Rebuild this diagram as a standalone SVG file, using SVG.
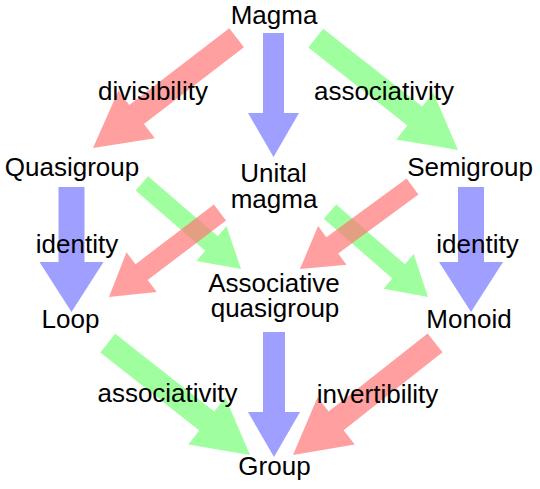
<svg xmlns="http://www.w3.org/2000/svg" width="540" height="489" viewBox="0 0 540 489">
<style>
.r{fill:#ff7676;fill-opacity:0.7}
.g{fill:#76ff76;fill-opacity:0.7}
.b{fill:#7676ff;fill-opacity:0.7}
text{font-family:"Liberation Sans",Arial,sans-serif;font-size:26px;fill:#000;text-anchor:middle}
</style>
<g id="connectors">
<polygon id="magma-unital" class="b" points="263,33 284,33 284,113 299,113 273.5,157 248,113 263,113"/>
<path id="magma-quasigroup" class="r" transform="translate(93,148) rotate(142.5)" d="M-181,-12H-55V-30L0,0L-55,30V12H-181Z"/>
<path id="magma-semigroup" class="g" transform="translate(458,150) rotate(38.2)" d="M-181,-12H-55V-30L0,0L-55,30V12H-181Z"/>
<polygon id="quasigroup-loop" class="b" points="58.5,187 84.5,187 84.5,262 103.5,262 71.5,312 39.5,262 58.5,262"/>
<polygon id="semigroup-monoid" class="b" points="458,187 484,187 484,262 503,262 471,312 439,262 458,262"/>
<path id="quasigroup-aq" class="g" transform="translate(241,269) rotate(40.8)" d="M-131,-9.5H-39V-23L0,0L-39,23V9.5H-131Z"/>
<path id="unital-monoid" class="g" transform="translate(428,297) rotate(41.1)" d="M-130,-9.5H-39V-23L0,0L-39,23V9.5H-130Z"/>
<path id="unital-loop" class="r" transform="translate(109,297) rotate(142.7)" d="M-139.5,-10H-41V-25L0,0L-41,25V10H-139.5Z"/>
<path id="semigroup-aq" class="r" transform="translate(300,269) rotate(143.75)" d="M-139.5,-10H-40V-24L0,0L-40,24V10H-139.5Z"/>
<polygon id="aq-group" class="b" points="263,332 285,332 285,412 300,412 274,457 248,412 263,412"/>
<path id="loop-group" class="g" transform="translate(250,455) rotate(38.2)" d="M-181,-12H-55V-30L0,0L-55,30V12H-181Z"/>
<path id="monoid-group" class="r" transform="translate(293,455) rotate(141.7)" d="M-181,-12H-55V-30L0,0L-55,30V12H-181Z"/>
</g>
<g id="labels">
<text x="153" y="100">divisibility</text>
<text x="384" y="100">associativity</text>
<text x="77" y="253">identity</text>
<text x="477.5" y="253">identity</text>
<text x="167.5" y="402">associativity</text>
<text x="377.5" y="403">invertibility</text>
</g>
<g id="magma"><text x="274" y="24">Magma</text></g>
<g id="quasigroup"><text x="72" y="176">Quasigroup</text></g>
<g id="unital-magma"><text x="273.5" y="182">Unital</text><text x="274" y="208">magma</text></g>
<g id="semigroup"><text x="470" y="176">Semigroup</text></g>
<g id="associative-quasigroup"><text x="274" y="292">Associative</text><text x="275" y="317">quasigroup</text></g>
<g id="loop"><text x="70.5" y="328">Loop</text></g>
<g id="monoid"><text x="469" y="328">Monoid</text></g>
<g id="group"><text x="274.5" y="475">Group</text></g>
</svg>
